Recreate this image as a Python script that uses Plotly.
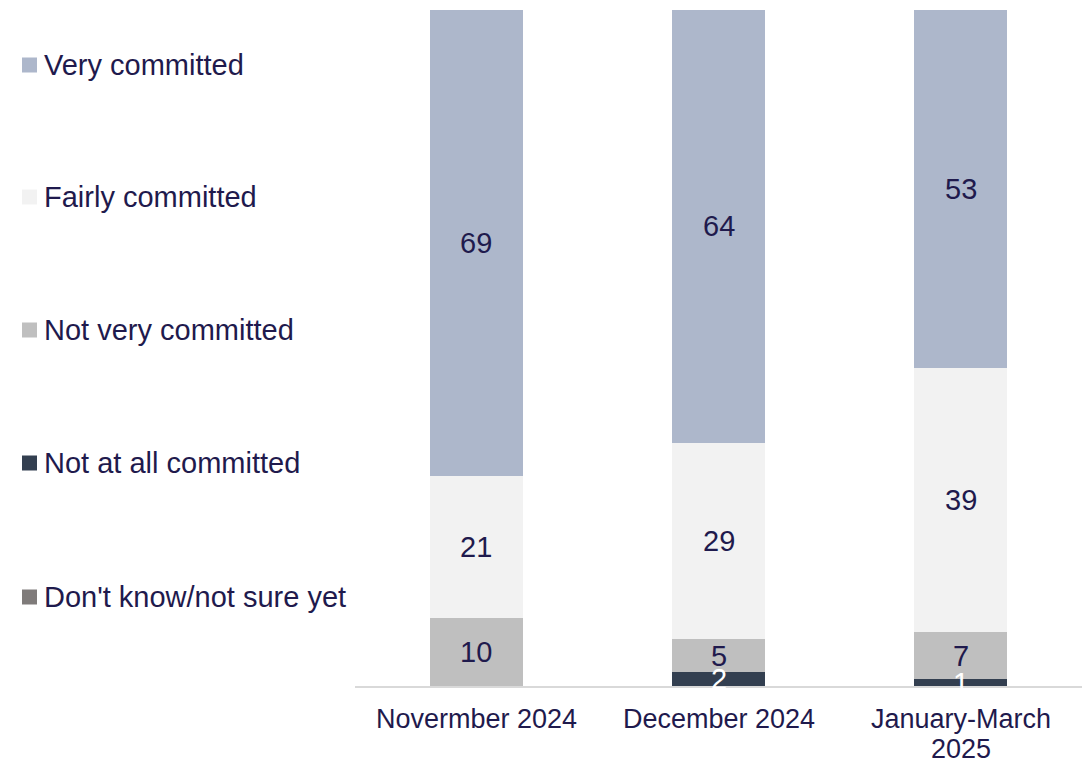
import plotly.graph_objects as go

periods = ["Novermber 2024", "December 2024", "January-March 2025"]
period_label_lines = [["Novermber 2024"], ["December 2024"], ["January-March", "2025"]]
series_names = ["Don't know/not sure yet", "Not at all committed", "Not very committed",
                "Fairly committed", "Very committed"]
dont_know = [0, 0, 0]
not_at_all = [0, 2, 1]
not_very = [10, 5, 7]
fairly = [21, 29, 39]
very = [69, 64, 53]

series_values = [dont_know, not_at_all, not_very, fairly, very]
colors = ["#7F7B7A", "#333F50", "#BFBFBF", "#F2F2F2", "#ADB7CB"]
label_colors = ["#FFFFFF", "#FFFFFF", "#1F1A4D", "#1F1A4D", "#1F1A4D"]
TEXT = "#1F1A4D"
FONT = "Liberation Sans, Arial, sans-serif"

W, H = 1086, 761
ML, MR, MT, MB = 355, 4, 10, 75
PW, PH = W - ML - MR, H - MT - MB

fig = go.Figure()
for name, vals, col in zip(series_names, series_values, colors):
    fig.add_trace(go.Bar(
        x=periods, y=vals, name=name, marker=dict(color=col, line=dict(width=0)),
        textposition="none", hoverinfo="skip", showlegend=False,
    ))

# value labels centred on each segment
cum = [0, 0, 0]
for vals, lc in zip(series_values, label_colors):
    for j, v in enumerate(vals):
        if v > 0:
            fig.add_annotation(x=periods[j], y=cum[j] + v / 2, text=str(v),
                               showarrow=False, font=dict(size=29, color=lc, family=FONT),
                               yanchor="middle")
        cum[j] += v

# category labels under the axis, with tighter line spacing than <br> gives
for period, lines in zip(periods, period_label_lines):
    for i, line in enumerate(lines):
        fig.add_annotation(x=period, y=0, yref="y", text=line, showarrow=False,
                           yanchor="middle", yshift=-(33 + 30 * i),
                           font=dict(size=27, color=TEXT, family=FONT))

# legend on the left, top entry = top of the stack
legend_rows_px = [597, 463, 330, 197, 65]
for name, col, ypx in zip(series_names, colors, legend_rows_px):
    yc = (H - MB - ypx) / PH
    fig.add_shape(type="rect", xref="paper", yref="paper",
                  x0=(22 - ML) / PW, x1=(37 - ML) / PW,
                  y0=yc - 7.5 / PH, y1=yc + 7.5 / PH,
                  fillcolor=col, line=dict(width=0))
    fig.add_annotation(xref="paper", yref="paper", x=(42 - ML) / PW, y=yc,
                       xanchor="left", yanchor="middle", text=name, showarrow=False,
                       font=dict(size=29, color=TEXT, family=FONT))

fig.update_layout(
    width=W, height=H,
    margin=dict(l=ML, r=MR, t=MT, b=MB, autoexpand=False),
    barmode="stack", bargap=0.616,
    plot_bgcolor="white", paper_bgcolor="white",
    font=dict(family=FONT, color=TEXT),
    showlegend=False,
    xaxis=dict(showline=True, linecolor="#D9D9D9", linewidth=1.5, ticks="",
               showticklabels=False, automargin=False, showgrid=False),
    yaxis=dict(range=[0, 100], visible=False, showgrid=False, automargin=False),
)

fig.write_html("out.html")
